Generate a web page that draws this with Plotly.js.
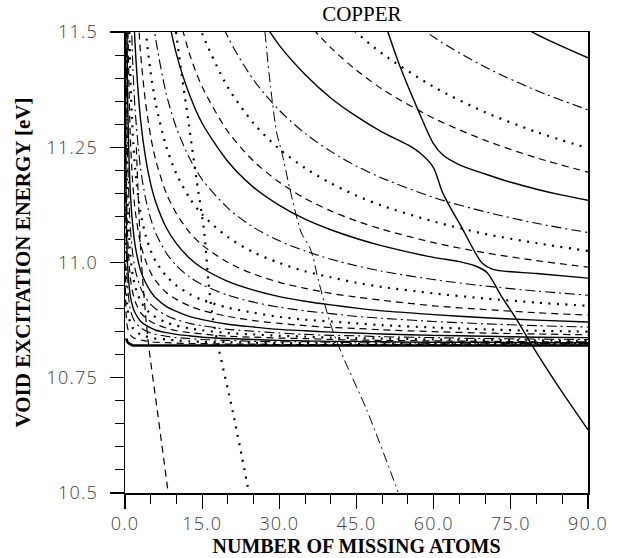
<!DOCTYPE html>
<html><head><meta charset="utf-8">
<script src="https://cdn.plot.ly/plotly-3.0.1.min.js"></script>
<style>html,body{margin:0;padding:0;background:#fff;}#chart{width:625px;height:558px;}
#chart .xtick text,#chart .ytick text{letter-spacing:1.2px;}</style>
</head><body><div id="chart"></div>
<script>
// shared grid of "number of missing atoms"
const missingAtoms = [0.05, 0.1, 0.25, 0.5, 1, 1.5, 2, 3, 4, 5, 6, 8, 10, 12.5, 15, 20, 25, 30, 35, 40, 45, 50, 60, 70, 80, 90];

// void excitation energies (eV) of each level (null = above the frame)
const c01 = [null,null,null,null,null,null,null,null,null,null,null,null,null,null,null,null,null,null,null,null,null,null,null,11.558,11.495,11.444];
const c02 = [null,null,null,null,null,null,null,null,null,null,null,null,null,null,null,null,null,null,null,null,null,11.576,11.489,11.424,11.373,11.331];
const c03 = [null,null,null,null,null,null,null,null,null,null,null,null,null,null,null,null,null,null,null,11.555,11.499,11.453,11.381,11.326,11.283,11.248];
const c04 = [null,null,null,null,null,null,null,null,null,null,null,null,null,null,null,null,null,null,11.526,11.466,11.417,11.376,11.313,11.265,11.227,11.196];
const c06 = [null,null,null,null,null,null,null,null,null,null,null,null,null,null,11.629,11.489,11.396,11.33,11.28,11.241,11.209,11.183,11.141,11.11,11.085,11.065];
const c07 = [null,null,null,null,null,null,null,null,null,null,null,null,null,11.585,11.497,11.38,11.302,11.246,11.205,11.172,11.145,11.123,11.089,11.062,11.042,11.025];
const c08 = [null,null,null,null,null,null,null,null,null,null,null,null,11.556,11.454,11.381,11.284,11.22,11.174,11.139,11.112,11.09,11.072,11.043,11.021,11.004,10.99];
const c10 = [null,null,null,null,null,null,null,null,null,11.569,11.483,11.367,11.292,11.227,11.18,11.118,11.076,11.047,11.025,11.007,10.993,10.981,10.963,10.949,10.938,10.929];
const c11 = [null,null,null,null,null,null,null,11.651,11.506,11.411,11.343,11.252,11.192,11.141,11.104,11.055,11.022,10.999,10.981,10.968,10.956,10.947,10.933,10.922,10.913,10.906];
const c12 = [null,null,null,null,null,null,11.655,11.458,11.347,11.273,11.221,11.151,11.106,11.066,11.038,11.0,10.975,10.957,10.944,10.933,10.925,10.918,10.906,10.898,10.891,10.886];
const c13 = [null,null,null,null,null,11.602,11.465,11.313,11.227,11.17,11.13,11.076,11.041,11.01,10.988,10.959,10.94,10.926,10.916,10.908,10.901,10.895,10.887,10.88,10.875,10.871];
const c14 = [null,null,null,null,11.623,11.433,11.326,11.206,11.139,11.095,11.063,11.021,10.993,10.969,10.952,10.929,10.914,10.903,10.895,10.889,10.883,10.879,10.872,10.867,10.863,10.86];
const c15 = [null,null,null,11.777,11.422,11.28,11.2,11.11,11.059,11.026,11.002,10.971,10.95,10.932,10.919,10.902,10.891,10.882,10.876,10.872,10.868,10.864,10.859,10.855,10.852,10.85];
const c16 = [null,null,null,11.553,11.282,11.173,11.111,11.042,11.004,10.978,10.96,10.935,10.92,10.906,10.896,10.883,10.874,10.868,10.863,10.859,10.857,10.854,10.85,10.847,10.845,10.843];
const c17 = [null,null,11.68,11.362,11.161,11.081,11.035,10.984,10.956,10.937,10.923,10.905,10.894,10.883,10.876,10.866,10.86,10.855,10.852,10.849,10.847,10.845,10.842,10.84,10.838,10.837];
const c18 = [null,12.03,11.478,11.235,11.081,11.019,10.984,10.946,10.924,10.909,10.899,10.885,10.876,10.868,10.863,10.855,10.851,10.847,10.844,10.842,10.841,10.839,10.837,10.835,10.834,10.833];
const c19 = [null,11.754,11.326,11.139,11.021,10.973,10.947,10.917,10.9,10.889,10.881,10.87,10.863,10.857,10.853,10.847,10.844,10.841,10.839,10.837,10.836,10.835,10.833,10.832,10.831,10.83];
const c20 = [11.93,11.52,11.2,11.059,10.971,10.935,10.915,10.892,10.88,10.872,10.866,10.858,10.852,10.848,10.845,10.84,10.838,10.836,10.835,10.833,10.832,10.831,10.83,10.829,10.828,10.828];
const c21 = [11.634,11.334,11.098,10.995,10.93,10.904,10.89,10.873,10.864,10.858,10.853,10.848,10.844,10.841,10.838,10.835,10.833,10.831,10.83,10.829,10.829,10.828,10.827,10.827,10.826,10.826];
const c22 = [11.412,11.194,11.022,10.948,10.9,10.881,10.871,10.859,10.852,10.847,10.844,10.84,10.837,10.835,10.833,10.831,10.829,10.828,10.828,10.827,10.826,10.826,10.825,10.825,10.824,10.824];
const c23 = [11.19,11.054,10.947,10.9,10.87,10.858,10.852,10.844,10.84,10.837,10.835,10.833,10.831,10.829,10.828,10.827,10.826,10.825,10.825,10.824,10.824,10.824,10.823,10.823,10.823,10.823];
const c24 = [10.998,10.932,10.881,10.858,10.844,10.838,10.835,10.832,10.83,10.828,10.827,10.826,10.825,10.824,10.824,10.823,10.823,10.822,10.822,10.822,10.822,10.822,10.822,10.821,10.821,10.821];
const c25 = [null,null,10.835,10.827,10.823,10.82,10.82,10.82,10.82,10.82,10.82,10.82,10.82,10.82,10.82,10.82,10.82,10.82,10.82,10.82,10.82,10.82,10.82,10.82,10.82,10.82];

// solid levels with avoided crossings (own abscissae)
const pathA_N = [50.8, 53.5, 57, 59.9, 61.8, 65, 70, 75, 80, 85, 90];
const pathA_E = [11.51, 11.424, 11.33, 11.259, 11.233, 11.212, 11.192, 11.174, 11.159, 11.146, 11.135];
const pathB_N = [25, 30, 35, 40, 45, 50, 55, 57.3, 59.9, 61.8, 65.5, 69.4, 71.5, 80, 90];
const pathB_E = [11.556, 11.471, 11.408, 11.357, 11.317, 11.283, 11.255, 11.238, 11.207, 11.15, 11.075, 10.999, 10.985, 10.976, 10.966];
const pathC_N = [8, 10, 12.5, 15, 20, 25, 30, 35, 40, 45, 50, 60, 65, 68, 70.4, 73, 76.2, 79.3, 84, 90];
const pathC_E = [11.553, 11.452, 11.365, 11.302, 11.219, 11.163, 11.124, 11.094, 11.071, 11.052, 11.036, 11.011, 11.002, 10.993, 10.978, 10.93, 10.875, 10.817, 10.735, 10.637];

// steep (bound) levels
const dashBound_N = [2.2, 3.2, 4.5, 6.45, 8.4];
const dashBound_E = [11.25, 11.0, 10.83, 10.665, 10.5];
const dotBound_N = [9.9, 11, 12.4, 13.9, 15.4, 16.2, 17, 17.9, 21, 24.1];
const dotBound_E = [11.5, 11.41, 11.3, 11.18, 11.066, 10.96, 10.885, 10.83, 10.674, 10.5];
const dashDotBound_N = [27.2, 28.3, 29.5, 30.5, 32.1, 34.3, 35.8, 36.6, 37.3, 39.9, 42.4, 47, 53.1];
const dashDotBound_E = [11.5, 11.38, 11.281, 11.238, 11.157, 11.064, 11.035, 11.01, 10.975, 10.868, 10.795, 10.68, 10.502];

// tick labels
const xTickVals = [0, 15, 30, 45, 60, 75, 90];
const xTickText = ['0.0', '15.0', '30.0', '45.0', '60.0', '75.0', '90.0'];
const yTickVals = [10.5, 10.75, 11.0, 11.25, 11.5];
const yTickText = ['10.5', '10.75', '11.0', '11.25', '11.5'];

// styles
const STY = {
  solid:   {dash: 'solid', width: 1.4},
  dashed:  {dash: '7px,5px', width: 1.2},
  dotted:  {dash: '2px,6.5px', width: 2.2},
  dashdot: {dash: '10px,4px,2px,4px', width: 1.1}
};
const traces = [];
function add(xs, ys, s, w) {
  const st = STY[s];
  traces.push({x: xs, y: ys, type: 'scatter', mode: 'lines', hoverinfo: 'skip',
    line: {color: '#000', dash: st.dash, width: w || st.width, shape: 'spline', smoothing: 0.8}});
}
const levels = [
  [c01,'solid'],[c02,'dashdot'],[c03,'dotted'],[c04,'dashed'],
  [c06,'dashdot'],[c07,'dotted'],[c08,'dashed'],
  [c10,'dashdot'],[c11,'dotted'],[c12,'dashed'],[c13,'solid'],
  [c14,'dashdot'],[c15,'dotted'],[c16,'dashed'],[c17,'solid'],
  [c18,'dashdot'],[c19,'dotted'],[c20,'dashed'],[c21,'solid'],
  [c22,'dashdot'],[c23,'dotted'],[c24,'dashed']
];
levels.forEach(l => add(missingAtoms, l[0], l[1]));
add(missingAtoms, c25, 'solid', 2.6);
add(pathA_N, pathA_E, 'solid');
add(pathB_N, pathB_E, 'solid');
add(pathC_N, pathC_E, 'solid');
add(dashBound_N, dashBound_E, 'dashed');
add(dotBound_N, dotBound_E, 'dotted');
add(dashDotBound_N, dashDotBound_E, 'dashdot', 1.0);

const tickFont = {family: 'Open Sans', size: 18, color: '#3c3c3c', weight: 300};
const layout = {
  width: 625, height: 558,
  margin: {l: 125, r: 37, t: 32, b: 65},
  paper_bgcolor: '#fff', plot_bgcolor: '#fff',
  showlegend: false,
  title: {text: 'COPPER', font: {family: 'Liberation Serif', size: 21, color: '#000'},
          xref: 'container', x: 0.579, xanchor: 'center', yref: 'container', y: 0.975, yanchor: 'middle'},
  xaxis: {
    range: [0, 90], tickmode: 'array', tickvals: xTickVals, ticktext: xTickText,
    ticks: 'outside', ticklen: 14, tickwidth: 1.2, tickcolor: '#000', ticklabelstandoff: 0,
    minor: {dtick: 5, tick0: 0, ticks: 'outside', ticklen: 9, tickwidth: 1, tickcolor: '#000', showgrid: false},
    showline: true, linewidth: 1.5, linecolor: '#000', mirror: true,
    showgrid: false, zeroline: false, tickfont: tickFont,
    title: {text: 'NUMBER OF MISSING ATOMS', font: {family: 'Liberation Serif', size: 20, color: '#000', weight: 'bold'}, standoff: 3}
  },
  yaxis: {
    range: [10.5, 11.5], tickmode: 'array', tickvals: yTickVals, ticktext: yTickText,
    ticks: 'outside', ticklen: 14, tickwidth: 1.2, tickcolor: '#000', ticklabelstandoff: 8,
    minor: {dtick: 0.05, tick0: 10.5, ticks: 'outside', ticklen: 9, tickwidth: 1, tickcolor: '#000', showgrid: false},
    showline: true, linewidth: 1.5, linecolor: '#000', mirror: true,
    showgrid: false, zeroline: false, tickfont: tickFont,
    title: {text: 'VOID EXCITATION ENERGY [eV]', font: {family: 'Liberation Serif', size: 21, color: '#000', weight: 'bold'}, standoff: 16}
  }
};
Plotly.newPlot('chart', traces, layout, {staticPlot: true, displayModeBar: false});
</script></body></html>
